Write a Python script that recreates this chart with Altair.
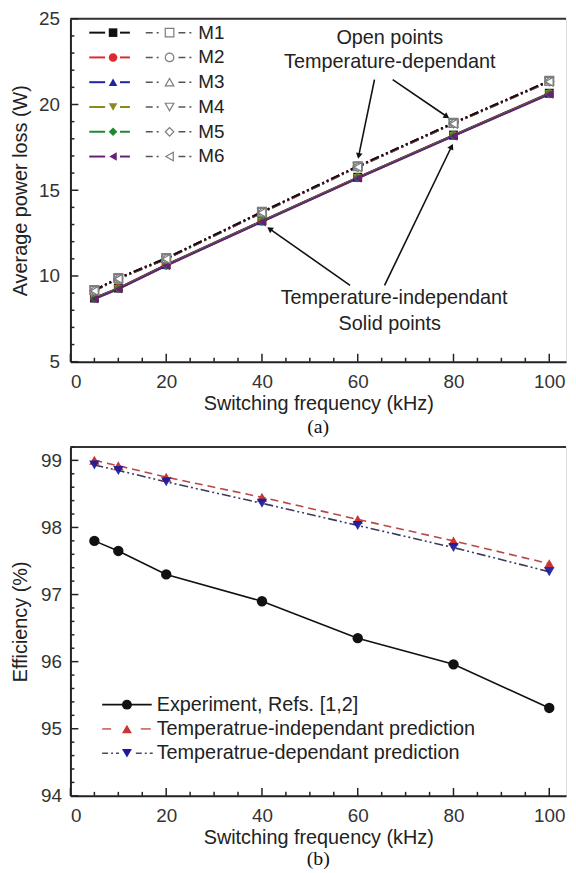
import math
import altair as alt
import pandas as pd

FONT = "Liberation Sans"

# ---------------- data ----------------
freq = [5, 10, 20, 40, 60, 80, 100]
models = ["M1", "M2", "M3", "M4", "M5", "M6"]

# temperature-independent (solid points)
loss_indep = {
    "M1": [8.72, 9.30, 10.66, 13.22, 15.76, 18.22, 20.66],
    "M2": [8.70, 9.28, 10.64, 13.20, 15.74, 18.20, 20.64],
    "M3": [8.69, 9.27, 10.63, 13.19, 15.73, 18.19, 20.63],
    "M4": [8.68, 9.26, 10.62, 13.18, 15.72, 18.18, 20.62],
    "M5": [8.67, 9.25, 10.61, 13.17, 15.71, 18.17, 20.61],
    "M6": [8.65, 9.23, 10.59, 13.15, 15.69, 18.15, 20.59],
}
# temperature-dependant (open points)
loss_dep = {
    "M1": [9.18, 9.88, 11.04, 13.74, 16.40, 18.93, 21.38],
    "M2": [9.17, 9.87, 11.03, 13.73, 16.39, 18.92, 21.37],
    "M3": [9.16, 9.86, 11.02, 13.72, 16.38, 18.91, 21.36],
    "M4": [9.15, 9.85, 11.01, 13.71, 16.37, 18.90, 21.35],
    "M5": [9.14, 9.84, 11.00, 13.70, 16.36, 18.89, 21.34],
    "M6": [9.13, 9.83, 10.99, 13.69, 16.35, 18.88, 21.33],
}

eff_freq = [5, 10, 20, 40, 60, 80, 100]
eff_experiment = [97.80, 97.65, 97.30, 96.90, 96.35, 95.96, 95.31]
eff_indep = [99.00, 98.92, 98.75, 98.45, 98.12, 97.80, 97.46]
eff_dep = [98.93, 98.85, 98.68, 98.36, 98.03, 97.70, 97.34]

bottom_series = [
    "Experiment, Refs. [1,2]",
    "Temperatrue-independant prediction",
    "Temperatrue-dependant prediction",
]

# ---------------- styles ----------------
m_colors = ["#111111", "#de2a2f", "#1f22a6", "#8c8a1c", "#1d8a2c", "#6a1f76"]
m_shapes = ["square", "circle", "triangle-up", "triangle-down", "diamond", "triangle-left"]
open_stroke = "#7c7c7c"

W = 500
H1 = 346
H2 = 352
XMAX = 103.5
xscale = alt.Scale(domain=[0, XMAX], nice=False, zero=False)
yscale1 = alt.Scale(domain=[5, 25], nice=False, zero=False)
yscale2 = alt.Scale(domain=[94, 99.2], nice=False, zero=False)

axis_common = dict(
    grid=False, tickSize=0, domainWidth=2, domainColor="#222",
    labelFont=FONT, titleFont=FONT, labelFontSize=19, titleFontSize=20,
    labelColor="#333", titleColor="#222", titleFontWeight="normal",
)
xaxis = alt.Axis(title="Switching frequency (kHz)", values=[0, 20, 40, 60, 80, 100],
                 labelPadding=11, titlePadding=2, **axis_common)
yaxis1 = alt.Axis(title="Average power loss (W)", values=[5, 10, 15, 20, 25],
                  labelPadding=11, titlePadding=8, **axis_common)
yaxis2 = alt.Axis(title="Efficiency (%)", values=[94, 95, 96, 97, 98, 99],
                  labelPadding=9, titlePadding=10, **axis_common)


def frame_layers(xmaj, xmin, ymaj, ymin, yscale, yaxis, H):
    out = []
    out.append(alt.Chart(pd.DataFrame({"a": [0]})).mark_rule(color="#333", strokeWidth=2).encode(
        x=alt.value(0), x2=alt.value(W), y=alt.value(0)))
    for vals, ln in ((xmaj, 8), (xmin, 4)):
        out.append(alt.Chart(pd.DataFrame({"v": vals})).mark_rule(color="#222", strokeWidth=1.5).encode(
            x=alt.X("v:Q", scale=xscale, axis=xaxis), y=alt.value(H), y2=alt.value(H - ln)))
    for vals, ln in ((ymaj, 8), (ymin, 4)):
        out.append(alt.Chart(pd.DataFrame({"v": vals})).mark_rule(color="#222", strokeWidth=1.5).encode(
            y=alt.Y("v:Q", scale=yscale, axis=yaxis), x=alt.value(0), x2=alt.value(ln)))
    return out


# ---------------- top panel ----------------
rows = []
for m in models:
    for f, a, b in zip(freq, loss_indep[m], loss_dep[m]):
        rows.append({"model": m, "f": f, "ind": a, "dep": b})
top_df = pd.DataFrame(rows)

X = alt.X("f:Q", scale=xscale, axis=xaxis)

top_layers = frame_layers([0, 20, 40, 60, 80, 100], [v for v in range(5, 101, 5) if v % 20],
                          [5, 10, 15, 20, 25], [v for v in range(6, 25) if v % 5], yscale1, yaxis1, H1)

for i in reversed(range(6)):
    m = models[i]
    top_layers.append(alt.Chart(top_df[top_df.model == m]).mark_line(
        color=m_colors[i], strokeWidth=2, strokeDash=[9, 3, 2, 3, 2, 3]).encode(
        x=X, y=alt.Y("dep:Q", scale=yscale1, axis=yaxis1)))
for i in range(6):
    m = models[i]
    top_layers.append(alt.Chart(top_df[top_df.model == m]).mark_line(
        color=m_colors[i], strokeWidth=1.8).encode(
        x=X, y=alt.Y("ind:Q", scale=yscale1, axis=yaxis1)))
for i in range(6):
    m = models[i]
    top_layers.append(alt.Chart(top_df[top_df.model == m]).mark_point(
        filled=True, size=80, opacity=1, color=m_colors[i], shape=m_shapes[i]).encode(
        x=X, y=alt.Y("ind:Q", scale=yscale1, axis=yaxis1)))
for i in range(6):
    m = models[i]
    top_layers.append(alt.Chart(top_df[top_df.model == m]).mark_point(
        filled=False, size=80, opacity=1, fill="white", fillOpacity=1, stroke=open_stroke,
        strokeWidth=1.2, shape=m_shapes[i]).encode(
        x=X, y=alt.Y("dep:Q", scale=yscale1, axis=yaxis1)))

# annotations (data coordinates)
ann_text = pd.DataFrame({
    "txt": ["Open points", "Temperature-dependant", "Temperature-independant", "Solid points"],
    "f": [66.7, 66.7, 67.6, 66.7],
    "w": [23.85, 22.47, 8.70, 7.22],
})
top_layers.append(alt.Chart(ann_text).mark_text(font=FONT, fontSize=20, color="#222").encode(
    x=X, y=alt.Y("w:Q", scale=yscale1, axis=yaxis1), text="txt:N"))

arr = pd.DataFrame({
    "x0": [63.5, 67.3, 58.4, 65.6],
    "y0": [21.45, 21.45, 9.45, 9.45],
    "x1": [60.2, 78.6, 41.6, 79.6],
    "y1": [17.0, 19.3, 12.75, 17.55],
})
sx = W / XMAX
sy = H1 / 20.0
arr["ang"] = [
    (math.degrees(math.atan2((b - a) * sx, (d - c) * sy)) + 360) % 360
    for a, b, c, d in zip(arr.x0, arr.x1, arr.y0, arr.y1)
]
top_layers.append(alt.Chart(arr).mark_rule(color="#111", strokeWidth=1.6).encode(
    x=alt.X("x0:Q", scale=xscale, axis=xaxis), x2="x1:Q",
    y=alt.Y("y0:Q", scale=yscale1, axis=yaxis1), y2="y1:Q"))
top_layers.append(alt.Chart(arr).mark_point(shape="triangle-up", filled=True, size=45,
                                             color="#111", opacity=1).encode(
    x=alt.X("x1:Q", scale=xscale, axis=xaxis), y=alt.Y("y1:Q", scale=yscale1, axis=yaxis1),
    angle=alt.Angle("ang:Q", scale=None)))

# legend (top panel) - styles derived in code, no scales shared with the other panel
leg_top = pd.DataFrame({"label": models, "row": list(range(6))})
leg_top["col"] = [m_colors[i] for i in leg_top.row]
leg_top["shp"] = [m_shapes[i] for i in leg_top.row]
LY = alt.Y("ly:Q", scale=None)
base_leg = alt.Chart(leg_top).transform_calculate(ly="14 + 25 * datum.row")
lcol = alt.Color("col:N", scale=None, legend=None)
lshp = alt.Shape("shp:N", scale=None, legend=None)
top_layers += [
    base_leg.mark_rule(strokeWidth=2).encode(x=alt.value(19), x2=alt.value(35), y=LY, color=lcol),
    base_leg.mark_rule(strokeWidth=2).encode(x=alt.value(50), x2=alt.value(60), y=LY, color=lcol),
    base_leg.mark_point(filled=True, size=75, opacity=1).encode(x=alt.value(43), y=LY, color=lcol, shape=lshp),
    base_leg.mark_rule(strokeWidth=1.5, color="#555", strokeDash=[7, 4, 2, 4]).encode(
        x=alt.value(76), x2=alt.value(92), y=LY),
    base_leg.mark_rule(strokeWidth=1.5, color="#555", strokeDash=[7, 4, 2, 4]).encode(
        x=alt.value(109), x2=alt.value(125), y=LY),
    base_leg.mark_point(filled=False, size=75, opacity=1, color=open_stroke, strokeWidth=1.2).encode(
        x=alt.value(100), y=LY, shape=lshp),
    base_leg.mark_text(font=FONT, fontSize=19, align="left", baseline="middle", color="#222").encode(
        x=alt.value(129), y=LY, text="label:N"),
]

top = alt.layer(*top_layers).properties(
    width=W, height=H1,
    title=alt.TitleParams("(a)", orient="bottom", anchor="middle", font="Liberation Serif",
                          fontSize=20, fontWeight="normal", color="#111", offset=4),
)

# ---------------- bottom panel ----------------
bot_df = pd.DataFrame({
    "f": eff_freq * 3,
    "eff": eff_experiment + eff_indep + eff_dep,
    "series": [bottom_series[0]] * 7 + [bottom_series[1]] * 7 + [bottom_series[2]] * 7,
})
Y2 = alt.Y("eff:Q", scale=yscale2, axis=yaxis2)
bot_layers = frame_layers([0, 20, 40, 60, 80, 100], [v for v in range(5, 101, 5) if v % 20],
                          [94, 95, 96, 97, 98, 99],
                          [94.2, 94.4, 94.6, 94.8, 95.2, 95.4, 95.6, 95.8, 96.2, 96.4, 96.6, 96.8,
                           97.2, 97.4, 97.6, 97.8, 98.2, 98.4, 98.6, 98.8, 99.2],
                          yscale2, yaxis2, H2)

s0, s1, s2 = bottom_series
c_exp, c_ind, c_dep = "#111111", "#cc3333", "#1a1a9e"
bot_layers += [
    alt.Chart(bot_df[bot_df.series == s0]).mark_line(color=c_exp, strokeWidth=1.6).encode(x=X, y=Y2),
    alt.Chart(bot_df[bot_df.series == s1]).mark_line(color="#b84848", strokeWidth=1.6,
                                                     strokeDash=[8, 5]).encode(x=X, y=Y2),
    alt.Chart(bot_df[bot_df.series == s2]).mark_line(color="#3a3a5e", strokeWidth=1.6,
                                                     strokeDash=[9, 3, 2, 3, 2, 3]).encode(x=X, y=Y2),
    alt.Chart(bot_df[bot_df.series == s0]).mark_point(filled=True, size=110, opacity=1,
                                                      color=c_exp, shape="circle").encode(x=X, y=Y2),
    alt.Chart(bot_df[bot_df.series == s1]).mark_point(filled=True, size=110, opacity=1,
                                                      color=c_ind, shape="triangle-up").encode(x=X, y=Y2),
    alt.Chart(bot_df[bot_df.series == s2]).mark_point(filled=True, size=110, opacity=0.92,
                                                      color=c_dep, shape="triangle-down").encode(x=X, y=Y2),
]

leg_bot = pd.DataFrame({"label": bottom_series, "row": [0, 1, 2]})
leg_bot["col"] = [c_exp, c_ind, c_dep]
leg_bot["shp"] = ["circle", "triangle-up", "triangle-down"]
bl = alt.Chart(leg_bot).transform_calculate(ly="260 + 24.5 * datum.row")
bot_layers += [
    alt.Chart(leg_bot[leg_bot.row == 0]).transform_calculate(ly="260").mark_rule(
        color=c_exp, strokeWidth=1.6).encode(x=alt.value(32), x2=alt.value(82), y=LY),
    alt.Chart(leg_bot[leg_bot.row == 1]).transform_calculate(ly="284.5").mark_rule(
        color="#c86060", strokeWidth=1.6).encode(x=alt.value(32), x2=alt.value(41), y=LY),
    alt.Chart(leg_bot[leg_bot.row == 1]).transform_calculate(ly="284.5").mark_rule(
        color="#c86060", strokeWidth=1.6).encode(x=alt.value(71), x2=alt.value(81), y=LY),
    alt.Chart(leg_bot[leg_bot.row == 2]).transform_calculate(ly="309").mark_rule(
        color="#4a4a6a", strokeWidth=1.6, strokeDash=[6, 3, 2, 3]).encode(x=alt.value(32), x2=alt.value(49), y=LY),
    alt.Chart(leg_bot[leg_bot.row == 2]).transform_calculate(ly="309").mark_rule(
        color="#4a4a6a", strokeWidth=1.6, strokeDash=[6, 3, 2, 3]).encode(x=alt.value(66), x2=alt.value(83), y=LY),
    bl.mark_point(filled=True, size=100, opacity=1).encode(
        x=alt.value(57), y=LY, color=alt.Color("col:N", scale=None, legend=None),
        shape=alt.Shape("shp:N", scale=None, legend=None)),
    bl.mark_text(font=FONT, fontSize=20, align="left", baseline="middle", color="#222").encode(
        x=alt.value(87), y=LY, text="label:N"),
]

bottom = alt.layer(*bot_layers).properties(
    width=W, height=H2,
    title=alt.TitleParams("(b)", orient="bottom", anchor="middle", font="Liberation Serif",
                          fontSize=20, fontWeight="normal", color="#111", offset=2),
)

chart = alt.vconcat(top, bottom, spacing=7).properties(
    padding={"left": 2, "top": -3, "right": 0, "bottom": 0}
).configure_view(stroke=None).configure(background="white")

chart.save("out.html", embed_options={"renderer": "svg", "actions": False})
